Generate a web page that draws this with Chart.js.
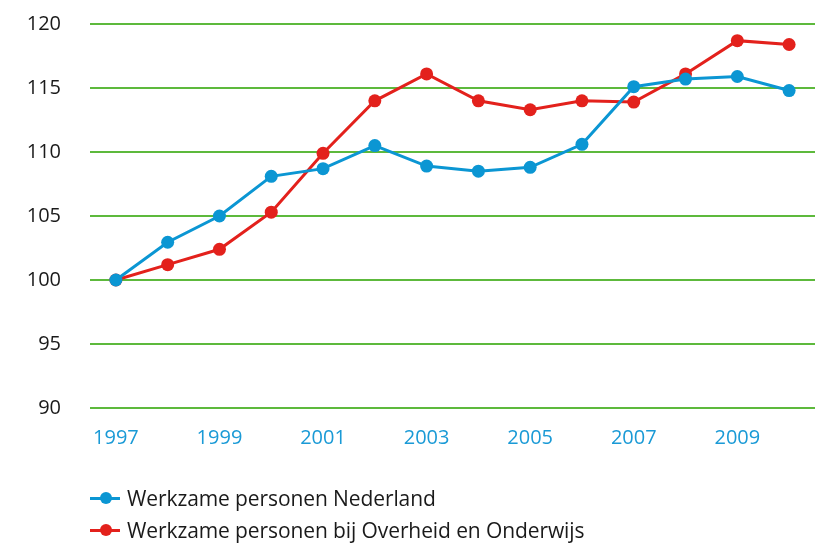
<!DOCTYPE html>
<html>
<head>
<meta charset="utf-8">
<script src="https://cdn.jsdelivr.net/npm/chart.js@4/dist/chart.umd.min.js"></script>
<style>
  html, body { margin: 0; padding: 0; background: #fff; }
  #wrap { position: relative; width: 824px; height: 543px; }
  #legend { position: absolute; left: 90px; top: 482px; font-family: "Open Sans", sans-serif; font-size: 21px; color: #1a1a1a; letter-spacing: -0.1px; }
  .item { height: 32px; line-height: 32px; white-space: nowrap; }
  .sym { display: inline-block; position: relative; width: 30px; height: 32px; vertical-align: top; margin-right: 7px; }
  .sym .ln { position: absolute; left: 0; right: 0; top: 15px; height: 3px; }
  .sym .dot { position: absolute; left: 10px; top: 10px; width: 12px; height: 12px; border-radius: 50%; }
</style>
</head>
<body>
<div id="wrap">
  <canvas id="chart" width="824" height="543"></canvas>
  <div id="legend"></div>
</div>
<script>
// jaren en indexcijfers (1997 = 100)
var years = ['1997','1998','1999','2000','2001','2002','2003','2004','2005','2006','2007','2008','2009','2010'];
var nederland = [100, 102.95, 105.0, 108.1, 108.7, 110.5, 108.9, 108.5, 108.8, 110.6, 115.1, 115.7, 115.9, 114.8];
var overheid = [100, 101.2, 102.4, 105.3, 109.9, 114.0, 116.1, 114.0, 113.3, 114.0, 113.9, 116.1, 118.7, 118.4];
var labels = ['Werkzame personen Nederland', 'Werkzame personen bij Overheid en Onderwijs'];

var blue = '#0b96d3';
var red = '#e3211c';
var green = '#5db93c';

function serie(label, data, color) {
  return {
    label: label,
    data: data,
    borderColor: color,
    backgroundColor: color,
    borderWidth: 3,
    pointRadius: 6.5,
    pointHoverRadius: 6.5,
    pointBorderWidth: 0,
    tension: 0
  };
}

var chart = new Chart(document.getElementById('chart'), {
  type: 'line',
  data: {
    labels: years,
    datasets: [serie(labels[0], nederland, blue), serie(labels[1], overheid, red)]
  },
  options: {
    responsive: false,
    animation: false,
    layout: { padding: { top: 24, right: 9, bottom: 90, left: 0 } },
    plugins: { legend: { display: false }, tooltip: { enabled: false } },
    scales: {
      x: {
        offset: true,
        grid: { display: false },
        border: { display: false },
        ticks: {
          color: '#1a9ad6',
          font: { family: 'Open Sans', size: 20 },
          maxRotation: 0,
          autoSkip: false,
          padding: 10,
          callback: function(v, i) { return i % 2 === 0 ? years[i] : ''; }
        },
        afterFit: function(s) { s.height = 45; }
      },
      y: {
        min: 90,
        max: 120,
        ticks: {
          stepSize: 5,
          color: '#1a1a1a',
          font: { family: 'Open Sans', size: 20 },
          padding: 1
        },
        // onzichtbare tick-streepjes als ruimte tussen labels en grafiek
        grid: { color: green, lineWidth: 2, drawTicks: true, tickLength: 28, tickColor: 'rgba(0,0,0,0)' },
        border: { display: false },
        afterFit: function(s) { s.width = 90; }
      }
    }
  }
});

// legenda onder de grafiek
var legend = document.getElementById('legend');
chart.data.datasets.forEach(function(ds) {
  var item = document.createElement('div');
  item.className = 'item';
  item.innerHTML = '<span class="sym"><span class="ln" style="background:' + ds.borderColor + '"></span>' +
    '<span class="dot" style="background:' + ds.borderColor + '"></span></span>' + ds.label;
  legend.appendChild(item);
});
</script>
</body>
</html>
